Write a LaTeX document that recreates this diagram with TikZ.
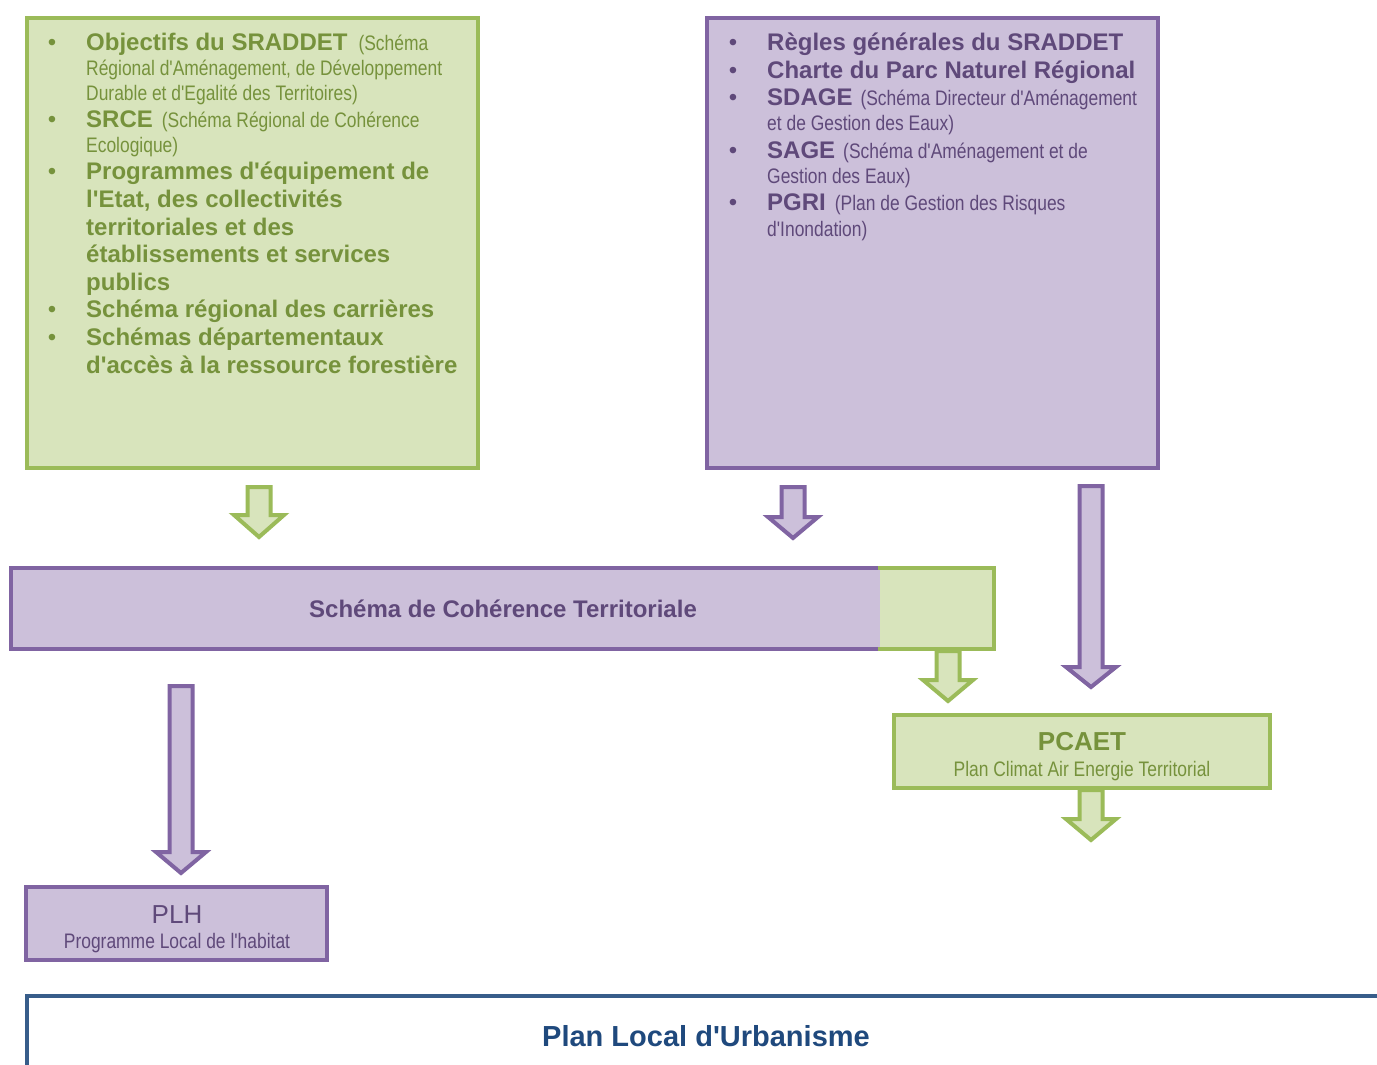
\documentclass[tikz,border=0pt]{standalone}
\usepackage{fontspec}
\setmainfont{Liberation Sans}
\newfontfamily\plainf{Liberation Sans}
\newfontfamily\narrowf[FakeStretch=0.83]{Liberation Sans}
\definecolor{gfill}{HTML}{D8E4BC}
\definecolor{gline}{HTML}{9BBB59}
\definecolor{gtext}{HTML}{76923C}
\definecolor{pfill}{HTML}{CCC0DA}
\definecolor{pline}{HTML}{8064A2}
\definecolor{ptext}{HTML}{5F497A}
\definecolor{bline}{HTML}{385D8A}
\definecolor{btext}{HTML}{1F497D}
\newcommand\txb[1]{{\plainf\fontsize{24}{28}\selectfont\bfseries #1}}
\newcommand\txn[1]{{\narrowf\fontsize{21}{24}\selectfont #1}}
\newcommand\blkarrow[5]{%
  \draw[#1] (#2-11.5,#3) -- (#2+11.5,#3) -- (#2+11.5,#4) -- (#2+25,#4) -- (#2,#5) -- (#2-25,#4) -- (#2-11.5,#4) -- cycle;}
\tikzset{
  lineg/.style={anchor=base west, inner sep=0pt, text=gtext},
  linep/.style={anchor=base west, inner sep=0pt, text=ptext},
  bul/.style={anchor=base, inner sep=0pt, font=\plainf\fontsize{24}{24}\selectfont},
  garrow/.style={draw=gline, fill=gfill, line width=4pt, line join=miter},
  parrow/.style={draw=pline, fill=pfill, line width=4pt, line join=miter},
}
\begin{document}
\begin{tikzpicture}[x=1pt,y=-1pt]
\useasboundingbox (0,0) rectangle (1377,1065);
\fill[white] (0,0) rectangle (1377,1065);

% top boxes
\draw[draw=gline, fill=gfill, line width=4pt] (27,18) rectangle (478,468);
\node (gbox) at (252,243) {};
\draw[draw=pline, fill=pfill, line width=4pt] (707,18) rectangle (1158,468);
\node (pbox) at (932,243) {};

% green list
\foreach \y in {51,127,179,317,345} \node[bul, text=gtext] at (52,\y) {•};
\node[lineg] (g1) at (86,51) {\txb{Objectifs du SRADDET}\hspace{11pt}\txn{(Schéma}};
\node[lineg] (g2) at (86,76) {\txn{Régional d'Aménagement, de Développement}};
\node[lineg] (g3) at (86,100) {\txn{Durable et d'Egalité des Territoires)}};
\node[lineg] (g4) at (86,127) {\txb{SRCE}\hspace{9pt}\txn{(Schéma Régional de Cohérence}};
\node[lineg] (g5) at (86,152) {\txn{Ecologique)}};
\node[lineg] (g6) at (86,179) {\txb{Programmes d'équipement de}};
\node[lineg] (g7) at (86,207) {\txb{l'Etat, des collectivités}};
\node[lineg] (g8) at (86,235) {\txb{territoriales et des}};
\node[lineg] (g9) at (86,262) {\txb{établissements et services}};
\node[lineg] (g10) at (86,290) {\txb{publics}};
\node[lineg] (g11) at (86,317) {\txb{Schéma régional des carrières}};
\node[lineg] (g12) at (86,345) {\txb{Schémas départementaux}};
\node[lineg] (g13) at (86,373) {\txb{d'accès à la ressource forestière}};

% purple list
\foreach \y in {51,78,106,158,210} \node[bul, text=ptext] at (733,\y) {•};
\node[linep] (p1) at (767,51) {\txb{Règles générales du SRADDET}};
\node[linep] (p2) at (767,78) {\txb{Charte du Parc Naturel Régional}};
\node[linep] (p3) at (767,106) {\txb{SDAGE}\hspace{8pt}\txn{(Schéma Directeur d'Aménagement}};
\node[linep] (p4) at (767,131) {\txn{et de Gestion des Eaux)}};
\node[linep] (p5) at (767,158) {\txb{SAGE}\hspace{8pt}\txn{(Schéma d'Aménagement et de}};
\node[linep] (p6) at (767,183) {\txn{Gestion des Eaux)}};
\node[linep] (p7) at (767,210) {\txb{PGRI}\hspace{9pt}\txn{(Plan de Gestion des Risques}};
\node[linep] (p8) at (767,236) {\txn{d'Inondation)}};

% SCoT bar
\fill[pfill] (9,566) rectangle (880,651);
\draw[pline, line width=4pt] (880,568) -- (11,568) -- (11,649) -- (880,649);
\fill[gfill] (880,568) rectangle (994,649);
\draw[gline, line width=4pt] (878,568) -- (994,568) -- (994,649) -- (878,649);
\node[inner sep=0pt, text=ptext, font=\plainf\fontsize{24}{28}\selectfont\bfseries] (scot) at (503,609) {Schéma de Cohérence Territoriale};

% PCAET
\draw[draw=gline, fill=gfill, line width=4pt] (894,715) rectangle (1270,788);
\node[inner sep=0pt, anchor=base, text=gtext, font=\plainf\fontsize{26}{30}\selectfont\bfseries] (pcaet) at (1082,750) {PCAET};
\node[inner sep=0pt, anchor=base, text=gtext] (pcaets) at (1082,776) {\txn{Plan Climat Air Energie Territorial}};

% PLH
\draw[draw=pline, fill=pfill, line width=4pt] (26,887) rectangle (327,960);
\node[inner sep=0pt, anchor=base, text=ptext, font=\plainf\fontsize{26}{30}\selectfont] (plh) at (177,923) {PLH};
\node[inner sep=0pt, anchor=base, text=ptext] (plhs) at (177,948) {\txn{Programme Local de l'habitat}};

% PLU
\draw[bline, line width=4pt] (27,1075) -- (27,996) -- (1400,996);
\node[inner sep=0pt, text=btext, font=\plainf\fontsize{29}{33}\selectfont\bfseries] (plu) at (706,1036) {Plan Local d'Urbanisme};

% block arrows
\blkarrow{garrow}{259}{487}{515}{537}
\blkarrow{parrow}{793}{487}{517}{538}
\blkarrow{parrow}{1091}{486}{667}{687}
\blkarrow{garrow}{948}{651}{680}{701}
\blkarrow{garrow}{1091}{790}{819}{840}
\blkarrow{parrow}{181}{686}{852}{873}
\end{tikzpicture}
\end{document}
